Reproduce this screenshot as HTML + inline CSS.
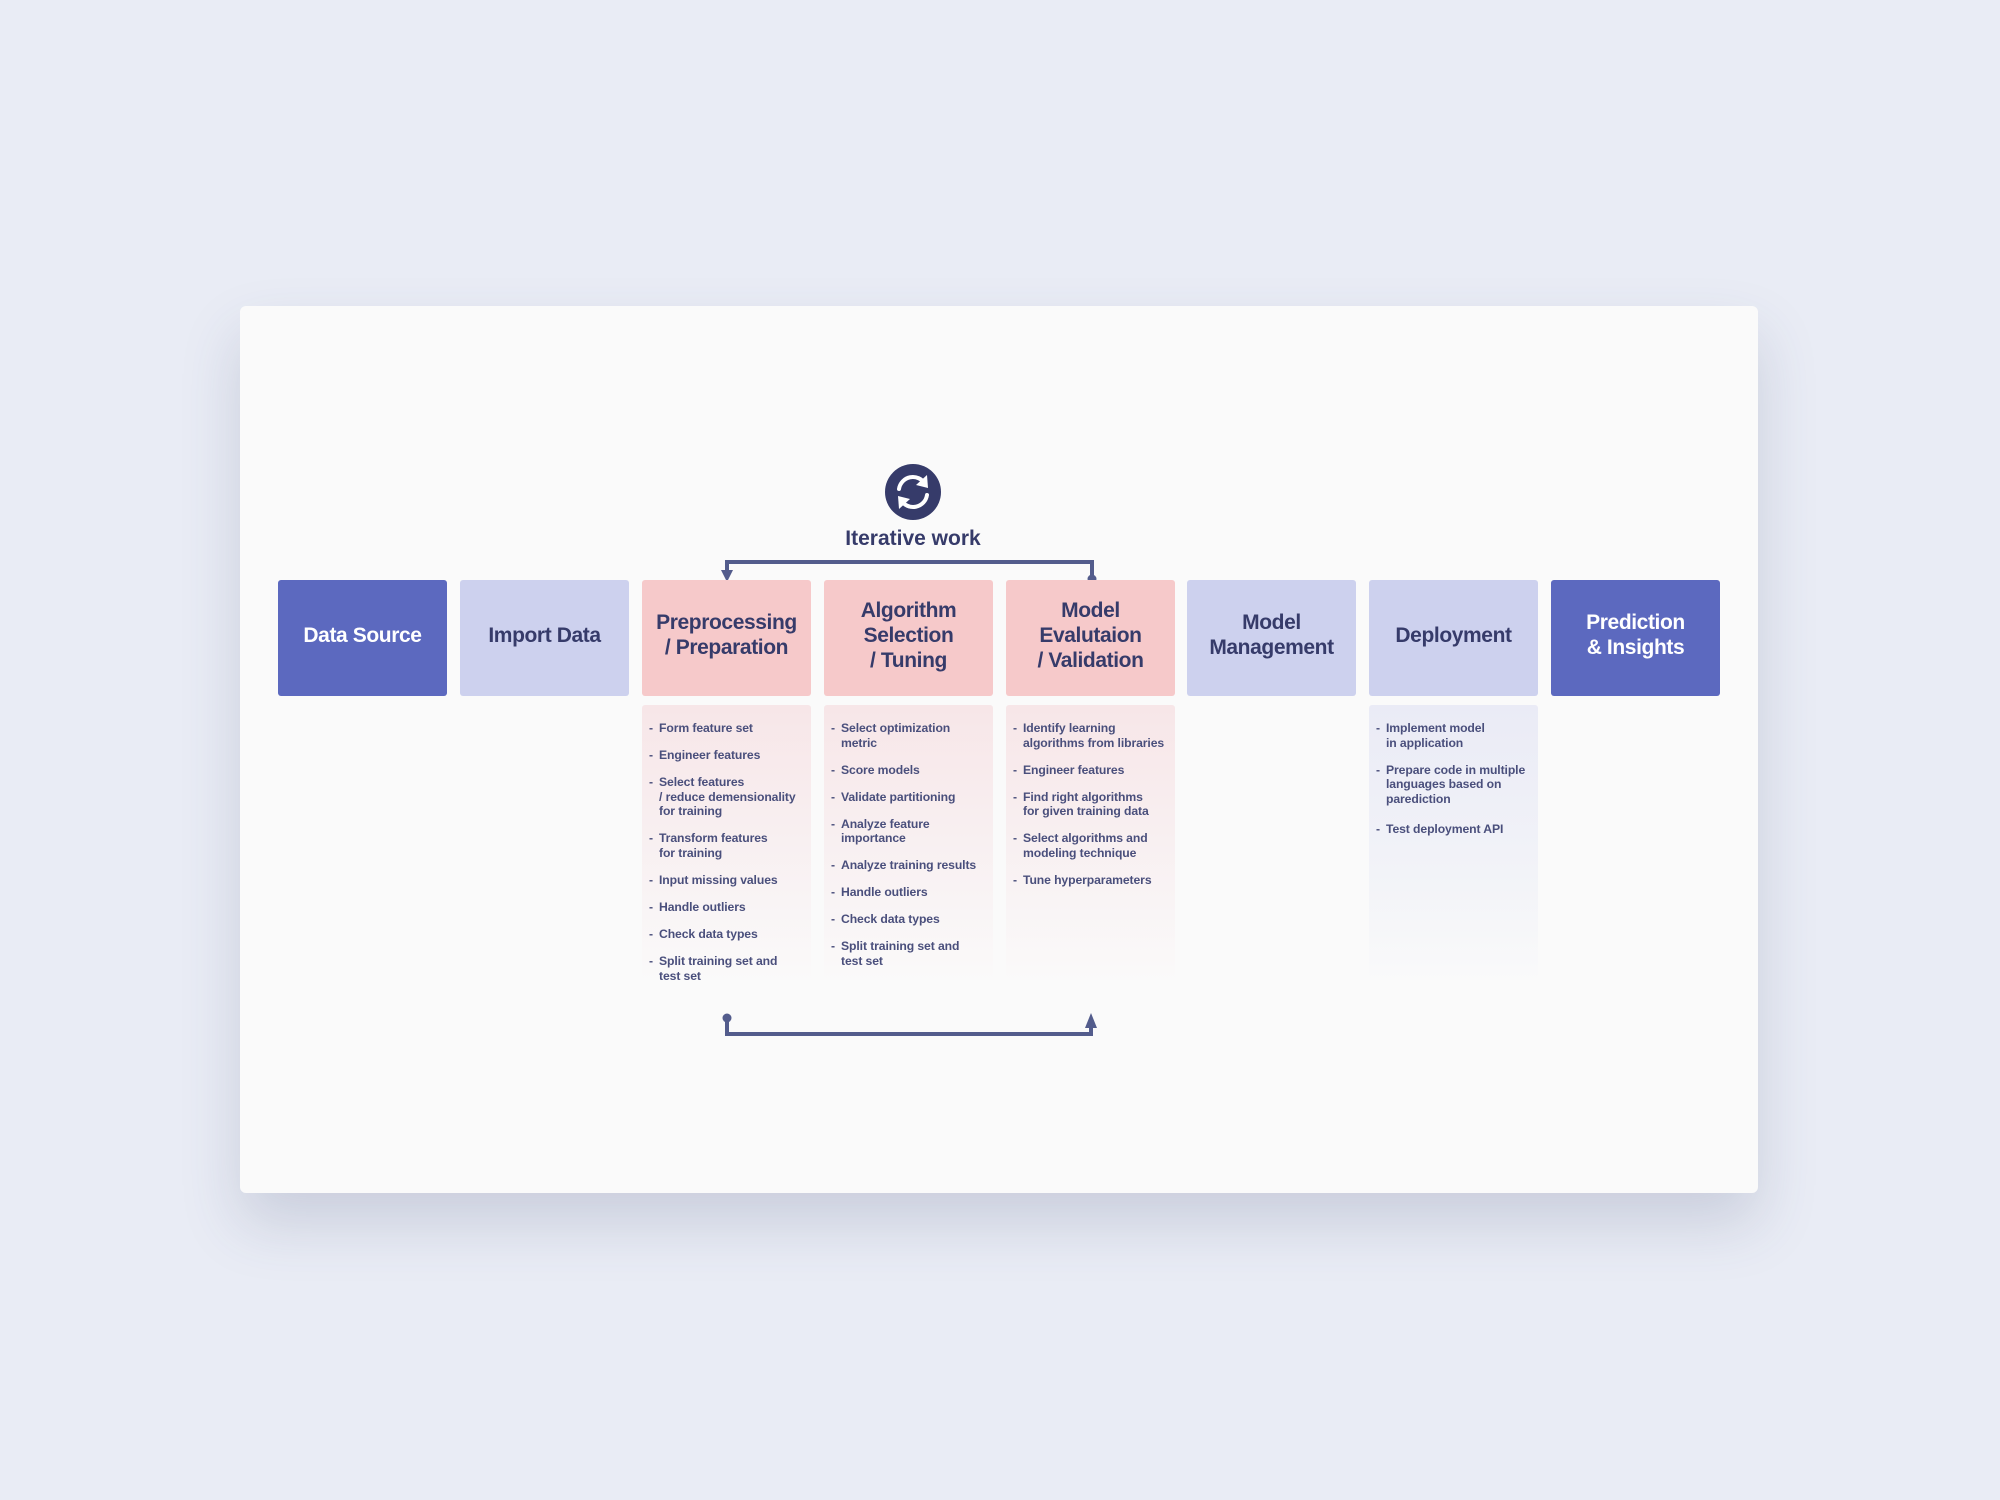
<!DOCTYPE html>
<html><head><meta charset="utf-8"><style>
*{margin:0;padding:0;box-sizing:border-box}
body{width:2000px;height:1500px;background:#e9ecf5;position:relative;overflow:hidden;font-family:"Liberation Sans",sans-serif;color:#3a3f6e}
.card{position:absolute;left:240px;top:306px;width:1518px;height:887px;background:#fafafa;border-radius:6px;box-shadow:0 30px 60px rgba(60,70,110,0.18)}
.box{position:absolute;top:580px;width:169px;height:116px;border-radius:3px;display:flex;align-items:center;justify-content:center;text-align:center;font-weight:bold;font-size:21px;line-height:25px;letter-spacing:-0.4px;padding-bottom:6px}
.dark{background:#5c69bf;color:#fff}
.light{background:#cdd1ee;color:#363b6a}
.pink{background:#f6c9ca;color:#363b6a}
.panel{position:absolute;top:705px;width:169px;height:280px;border-radius:3px;padding:16px 7px 0 7px}
.pp{background:linear-gradient(#f7e6e8,#f9f4f5 70%,#fafafa)}
.pl{background:linear-gradient(#eaebf6,#f2f3f8 60%,#fafafa)}
.panel div{position:relative;padding-left:10px;font-size:12.2px;font-weight:bold;line-height:14.7px;margin-bottom:12.3px;color:#4a4f7c;white-space:nowrap;letter-spacing:-0.1px}
.panel div:before{content:"-";position:absolute;left:0;top:0}
</style></head><body>
<div class="card"></div>
<svg style="position:absolute;left:0;top:0" width="2000" height="1500">
<circle cx="913" cy="492" r="28" fill="#363b6a"/>
<g fill="none" stroke="#fff" stroke-width="4" stroke-linecap="round">
<path d="M899 489 A14 14 0 0 1 925 484"/>
<path d="M927 495 A14 14 0 0 1 901 500"/>
</g>
<polygon points="927,475 928,488 916,485" fill="#fff"/>
<polygon points="899,509 898,496 910,499" fill="#fff"/>
<text x="913" y="545" text-anchor="middle" font-family="Liberation Sans" font-weight="bold" font-size="21" fill="#363b6a">Iterative work</text>
<g stroke="#535c8c" stroke-width="4" fill="none">
<path d="M727 572 V562 H1092 V578"/>
<path d="M727 1020 V1034 H1091 V1022"/>
</g>
<polygon points="721,570 733,570 727,582" fill="#535c8c"/>
<circle cx="1092" cy="579" r="4.5" fill="#535c8c"/>
<circle cx="727" cy="1018" r="4.5" fill="#535c8c"/>
<polygon points="1085,1028 1097,1028 1091,1013" fill="#535c8c"/>
</svg>
<div class="box dark" style="left:278px">Data Source</div>
<div class="box light" style="left:460px">Import Data</div>
<div class="box pink" style="left:642px">Preprocessing<br>/ Preparation</div>
<div class="box pink" style="left:824px">Algorithm<br>Selection<br>/ Tuning</div>
<div class="box pink" style="left:1006px">Model<br>Evalutaion<br>/ Validation</div>
<div class="box light" style="left:1187px">Model<br>Management</div>
<div class="box light" style="left:1369px">Deployment</div>
<div class="box dark" style="left:1551px">Prediction<br>&amp; Insights</div>

<div class="panel pp" style="left:642px">
<div>Form feature set</div>
<div>Engineer features</div>
<div>Select features<br>/ reduce demensionality<br>for training</div>
<div>Transform features<br>for training</div>
<div>Input missing values</div>
<div>Handle outliers</div>
<div>Check data types</div>
<div>Split training set and<br>test set</div>
</div>
<div class="panel pp" style="left:824px">
<div>Select optimization<br>metric</div>
<div>Score models</div>
<div>Validate partitioning</div>
<div>Analyze feature<br>importance</div>
<div>Analyze training results</div>
<div>Handle outliers</div>
<div>Check data types</div>
<div>Split training set and<br>test set</div>
</div>
<div class="panel pp" style="left:1006px">
<div>Identify learning<br>algorithms from libraries</div>
<div>Engineer features</div>
<div>Find right algorithms<br>for given training data</div>
<div>Select algorithms and<br>modeling technique</div>
<div>Tune hyperparameters</div>
</div>
<div class="panel pl" style="left:1369px">
<div>Implement model<br>in application</div>
<div>Prepare code in multiple<br>languages based on<br>parediction</div>
<div style="margin-top:15px">Test deployment API</div>
</div>
</body></html>
